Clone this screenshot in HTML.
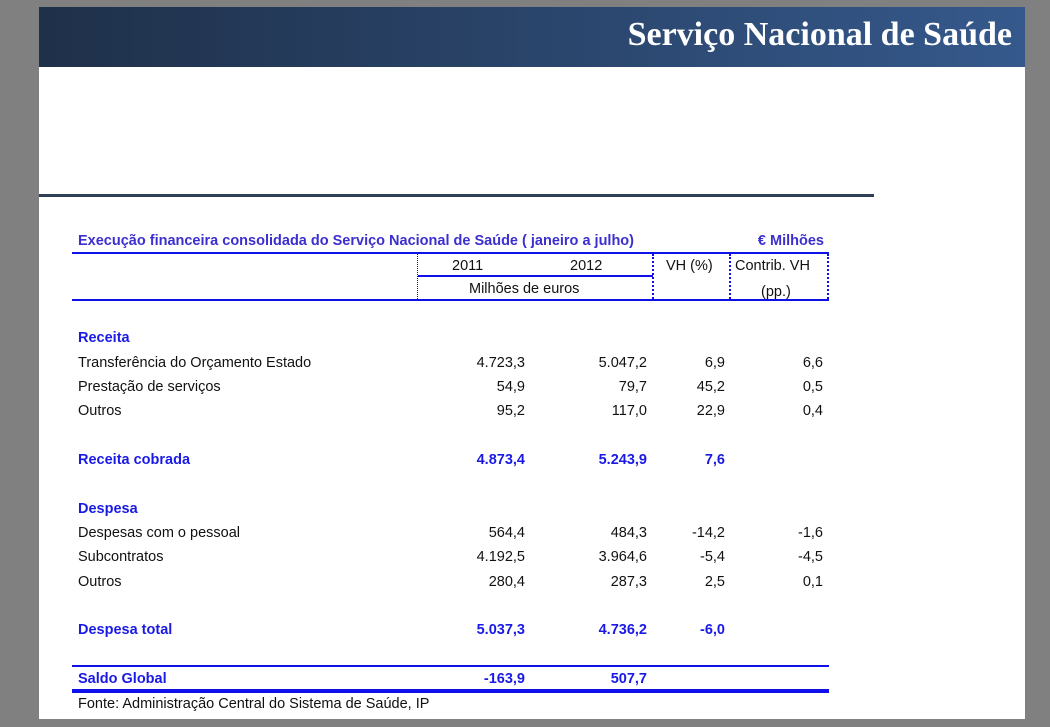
<!DOCTYPE html>
<html><head><meta charset="utf-8"><style>
body{margin:0;width:1050px;height:727px;background:#808080;position:relative;overflow:hidden;font-family:"Liberation Sans",sans-serif;}
#page{position:absolute;left:39px;top:7px;width:986px;height:712px;background:#fff;}
#hdr{position:absolute;left:39px;top:7px;width:986px;height:60px;background:linear-gradient(to right,#1f3049,#35598c);}
#hdr span{position:absolute;right:13px;top:9px;color:#fff;font-family:"Liberation Serif",serif;font-weight:bold;font-size:34px;letter-spacing:0px;}
.t{position:absolute;font-size:14.5px;color:#111;white-space:nowrap;line-height:18px;}
.b{color:#1a1ae6;font-weight:bold;}
.r{text-align:right;}
.ln{position:absolute;background:#1010e8;}
.dv{position:absolute;width:0;border-left:2px dotted #1010e8;}
</style></head><body>
<div id="page"></div>
<div id="hdr"><span>Serviço Nacional de Saúde</span></div>
<div style="position:absolute;left:39px;top:194px;width:835px;height:3px;background:#2f3f56"></div>
<div class="t b" style="left:78px;top:232px;color:#3b2fd0">Execução financeira consolidada do Serviço Nacional de Saúde ( janeiro a julho)</div>
<div class="t b r" style="left:700px;width:124px;top:232px;color:#3b2fd0">€ Milhões</div>
<div class="ln" style="left:72px;top:252px;width:757px;height:2px"></div>
<div class="ln" style="left:72px;top:299px;width:757px;height:2px"></div>
<div class="ln" style="left:418px;top:275px;width:235px;height:2px"></div>
<div class="dv" style="left:417px;top:254px;height:45px;border-left:1px dotted #1010e8"></div>
<div class="dv" style="left:652px;top:254px;height:45px"></div>
<div class="dv" style="left:729px;top:254px;height:45px"></div>
<div class="dv" style="left:827px;top:254px;height:45px"></div>
<div class="t" style="left:452px;top:257px">2011</div>
<div class="t" style="left:570px;top:257px">2012</div>
<div class="t" style="left:666px;top:257px">VH (%)</div>
<div class="t" style="left:735px;top:257px">Contrib. VH</div>
<div class="t" style="left:469px;top:280px">Milhões de euros</div>
<div class="t" style="left:761px;top:283px">(pp.)</div>
<div id="rows"></div>
<div class="ln" style="left:72px;top:665px;width:757px;height:2px"></div>
<div class="ln" style="left:72px;top:689px;width:757px;height:4px"></div>
<div class="t" style="left:78px;top:695px">Fonte: Administração Central do Sistema de Saúde, IP</div>
<script>
const labels=["Receita","Transferência do Orçamento Estado","Prestação de serviços","Outros","Receita cobrada","Despesa","Despesas com o pessoal","Subcontratos","Outros","Despesa total","Saldo  Global"];
const tops=[329,354,378,402,451,500,524,548,573,621,670];
const bold=[1,0,0,0,1,1,0,0,0,1,1];
const v2011=["","4.723,3","54,9","95,2","4.873,4","","564,4","4.192,5","280,4","5.037,3","-163,9"];
const v2012=["","5.047,2","79,7","117,0","5.243,9","","484,3","3.964,6","287,3","4.736,2","507,7"];
const vh=["","6,9","45,2","22,9","7,6","","-14,2","-5,4","2,5","-6,0",""];
const contrib=["","6,6","0,5","0,4","","","-1,6","-4,5","0,1","",""];
const cols=[[v2011,525],[v2012,647],[vh,725],[contrib,823]];
const host=document.getElementById('rows');
labels.forEach((l,i)=>{
  const d=document.createElement('div');
  d.className='t'+(bold[i]?' b':'');
  d.style.left='78px';d.style.top=tops[i]+'px';d.textContent=l;
  
  
  host.appendChild(d);
  cols.forEach(([arr,right])=>{
    if(!arr[i])return;
    const c=document.createElement('div');
    c.className='t r'+(bold[i]?' b':'');
    c.style.left=(right-100)+'px';c.style.width='100px';c.style.top=tops[i]+'px';c.textContent=arr[i];
    
    
    host.appendChild(c);
  });
});
</script>
</body></html>
